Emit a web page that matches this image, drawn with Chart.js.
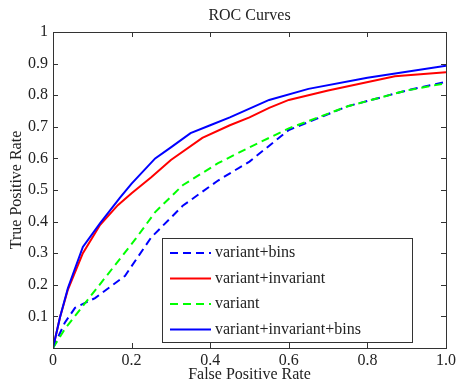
<!DOCTYPE html>
<html>
<head>
<meta charset="utf-8">
<script src="https://cdn.jsdelivr.net/npm/chart.js@4.4.0/dist/chart.umd.min.js"></script>
<style>
  body { margin: 0; background: #fff; }
  #wrap { width: 459px; height: 384px; }
</style>
</head>
<body>
<div id="wrap"><canvas id="roc"></canvas></div>
<script>
// values
var labels = ["variant+bins", "variant+invariant", "variant", "variant+invariant+bins"];

var binsX = [0, 0.03, 0.056, 0.107, 0.183, 0.25, 0.33, 0.42, 0.5, 0.6, 0.75, 0.9, 1.0];
var binsY = [0, 0.08, 0.127, 0.158, 0.228, 0.35, 0.45, 0.53, 0.59, 0.69, 0.765, 0.815, 0.842];

var invX = [0, 0.018, 0.038, 0.076, 0.12, 0.165, 0.2, 0.25, 0.3, 0.38, 0.45, 0.5, 0.55, 0.6, 0.7, 0.87, 1.0];
var invY = [0, 0.098, 0.185, 0.30, 0.39, 0.452, 0.49, 0.54, 0.595, 0.665, 0.705, 0.73, 0.76, 0.785, 0.815, 0.86, 0.873];

var varX = [0, 0.03, 0.09, 0.15, 0.21, 0.26, 0.33, 0.42, 0.5, 0.6, 0.75, 0.9, 1.0];
var varY = [0, 0.06, 0.155, 0.25, 0.345, 0.43, 0.515, 0.585, 0.635, 0.695, 0.765, 0.815, 0.838];

var allX = [0, 0.018, 0.038, 0.076, 0.12, 0.17, 0.2, 0.26, 0.3, 0.35, 0.4, 0.45, 0.55, 0.65, 0.8, 1.0];
var allY = [0, 0.098, 0.19, 0.32, 0.395, 0.475, 0.52, 0.60, 0.635, 0.68, 0.705, 0.73, 0.785, 0.82, 0.855, 0.893];

var xTicks = [0, 0.2, 0.4, 0.6, 0.8, 1.0];
var yTicks = [0, 0.1, 0.2, 0.3, 0.4, 0.5, 0.6, 0.7, 0.8, 0.9, 1];

function pts(xs, ys) {
  return xs.map(function(x, i) { return {x: x, y: ys[i]}; });
}

var serif = "'Liberation Serif', 'DejaVu Serif', serif";

// frame, inward ticks, title and the legend box inside the plot
var matlabLook = {
  id: 'matlabLook',
  afterDraw: function(chart) {
    var ctx = chart.ctx;
    var a = chart.chartArea;
    var xs = chart.scales.x, ys = chart.scales.y;
    ctx.save();
    ctx.strokeStyle = '#333';
    ctx.lineWidth = 1;
    ctx.strokeRect(Math.round(a.left) + 0.5, Math.round(a.top) + 0.5,
                   Math.round(a.right - a.left), Math.round(a.bottom - a.top));
    ctx.beginPath();
    xTicks.forEach(function(v) {
      var px = Math.round(xs.getPixelForValue(v)) + 0.5;
      ctx.moveTo(px, a.bottom); ctx.lineTo(px, a.bottom - 5);
      ctx.moveTo(px, a.top); ctx.lineTo(px, a.top + 5);
    });
    yTicks.forEach(function(v) {
      var py = Math.round(ys.getPixelForValue(v)) + 0.5;
      ctx.moveTo(a.left, py); ctx.lineTo(a.left + 5, py);
      ctx.moveTo(a.right, py); ctx.lineTo(a.right - 5, py);
    });
    ctx.stroke();

    // title
    ctx.fillStyle = '#222';
    ctx.font = '16px ' + serif;
    ctx.textAlign = 'center';
    ctx.textBaseline = 'middle';
    ctx.fillText('ROC Curves', (a.left + a.right) / 2, 16);

    // legend
    var bx = 162, by = 238, bw = 250, bh = 104;
    ctx.fillStyle = '#fff';
    ctx.fillRect(bx, by, bw, bh);
    ctx.strokeStyle = '#333';
    ctx.strokeRect(bx + 0.5, by + 0.5, bw, bh);
    ctx.font = '16px ' + serif;
    ctx.textAlign = 'left';
    chart.data.datasets.forEach(function(ds, i) {
      var y = by + 15 + i * 25.5;
      ctx.strokeStyle = ds.borderColor;
      ctx.lineWidth = ds.borderWidth;
      ctx.setLineDash(ds.borderDash || []);
      ctx.beginPath();
      ctx.moveTo(bx + 8, y); ctx.lineTo(bx + 49, y);
      ctx.stroke();
      ctx.setLineDash([]);
      ctx.fillStyle = '#222';
      ctx.fillText(ds.label, bx + 53, y);
    });
    ctx.restore();
  }
};

var ctx = document.getElementById('roc').getContext('2d');
var rocChart = new Chart(ctx, {
  type: 'line',
  data: {
    datasets: [
      { label: labels[0], data: pts(binsX, binsY), borderColor: '#0000ff', borderWidth: 2, borderDash: [8, 5], order: 4 },
      { label: labels[1], data: pts(invX, invY), borderColor: '#ff0000', borderWidth: 2, order: 3 },
      { label: labels[2], data: pts(varX, varY), borderColor: '#00ff00', borderWidth: 2, borderDash: [8, 5], order: 2 },
      { label: labels[3], data: pts(allX, allY), borderColor: '#0000ff', borderWidth: 2, order: 1 }
    ]
  },
  options: {
    responsive: true,
    maintainAspectRatio: false,
    animation: false,
    elements: { point: { radius: 0 }, line: { tension: 0, fill: false } },
    layout: { padding: { top: 32, right: 13, left: 0, bottom: 0 } },
    plugins: {
      legend: { display: false },
      tooltip: { enabled: false },
      title: { display: false }
    },
    scales: {
      x: {
        type: 'linear', min: 0, max: 1,
        afterBuildTicks: function(s) { s.ticks = xTicks.map(function(v) { return {value: v}; }); },
        ticks: {
          color: '#222', font: { family: serif, size: 16 }, padding: 3, maxRotation: 0,
          callback: function(v) { return v === 0 ? '0' : v.toFixed(1); }
        },
        grid: { display: false, drawTicks: false },
        border: { display: false },
        title: { display: true, text: 'False Positive Rate', color: '#222',
                 font: { family: serif, size: 16 }, padding: { top: 0, bottom: 0 } },
        afterFit: function(s) { s.height = 36; }
      },
      y: {
        type: 'linear', min: 0, max: 1,
        afterBuildTicks: function(s) { s.ticks = yTicks.map(function(v) { return {value: v}; }); },
        ticks: {
          color: '#222', font: { family: serif, size: 16 }, padding: 5,
          callback: function(v) { return v === 0 ? '' : (v === 1 ? '1' : v.toFixed(1)); }
        },
        grid: { display: false, drawTicks: false },
        border: { display: false },
        title: { display: true, text: 'True Positive Rate', color: '#222',
                 font: { family: serif, size: 16 }, padding: { top: 7, bottom: 0 } },
        afterFit: function(s) { s.width = 53; }
      }
    }
  },
  plugins: [matlabLook]
});
</script>
</body>
</html>
